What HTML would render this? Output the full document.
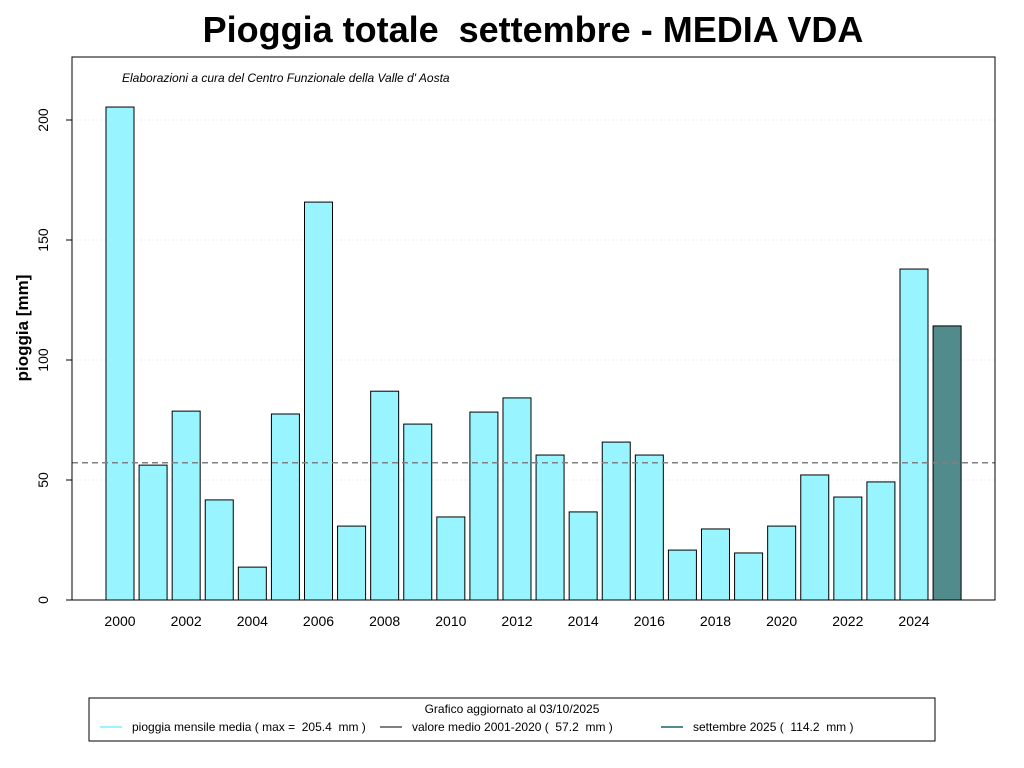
<!DOCTYPE html>
<html><head><meta charset="utf-8"><style>body{margin:0;background:#fff}svg{display:block}text{white-space:pre}</style></head>
<body>
<svg width="1024" height="768" xmlns="http://www.w3.org/2000/svg" font-family="Liberation Sans, sans-serif" xml:space="preserve">
<rect width="1024" height="768" fill="#fff"/>
<text x="533" y="42" text-anchor="middle" font-size="36" font-weight="bold">Pioggia totale  settembre - MEDIA VDA</text>
<g stroke="#eeeeee" stroke-dasharray="2,2">
<line x1="72" x2="995" y1="480" y2="480"/><line x1="72" x2="995" y1="360" y2="360"/>
<line x1="72" x2="995" y1="240" y2="240"/><line x1="72" x2="995" y1="120" y2="120"/>
</g>
<text x="122" y="82" font-size="12" font-style="italic">Elaborazioni a cura del Centro Funzionale della Valle d' Aosta</text>
<g id="bars" stroke="#000" stroke-width="1" fill="#98F5FF"></g>
<line x1="72" x2="995" y1="462.7" y2="462.7" stroke="#808080" stroke-width="1.5" stroke-dasharray="6,4"/>
<rect x="72" y="57" width="923" height="543" fill="none" stroke="#000"/>
<g id="yt" font-size="14"></g>
<g id="xt" font-size="14" text-anchor="middle"></g>
<text x="28" y="328" font-size="17" font-weight="bold" text-anchor="middle" transform="rotate(-90 28 328)">pioggia [mm]</text>
<rect x="89" y="698" width="846" height="43" fill="#fff" stroke="#000"/>
<text x="512" y="713" font-size="12" text-anchor="middle">Grafico aggiornato al 03/10/2025</text>
<line x1="100" x2="122" y1="727" y2="727" stroke="#98F5FF" stroke-width="2"/>
<text x="132" y="731" font-size="12">pioggia mensile media ( max =  205.4  mm )</text>
<line x1="380" x2="402" y1="727" y2="727" stroke="#808080" stroke-width="2"/>
<text x="412" y="731" font-size="12">valore medio 2001-2020 (  57.2  mm )</text>
<line x1="661" x2="683" y1="727" y2="727" stroke="#528B8B" stroke-width="2"/>
<text x="693" y="731" font-size="12">settembre 2025 (  114.2  mm )</text>
</svg>
<script>
var v=[205.4,56.2,78.7,41.7,13.7,77.5,165.8,30.8,87,73.3,34.6,78.3,84.2,60.4,36.7,65.8,60.4,20.8,29.6,19.6,30.8,52.1,42.9,49.2,137.9,114.2];
var ns="http://www.w3.org/2000/svg",b=document.getElementById('bars'),s=33.083;
v.forEach(function(d,i){var r=document.createElementNS(ns,'rect');var cx=120+s*i;
r.setAttribute('x',cx-14);r.setAttribute('width',28);r.setAttribute('y',600-d*2.4);r.setAttribute('height',d*2.4);
if(i==25)r.setAttribute('fill','#528B8B');b.appendChild(r);});
var yt=document.getElementById('yt');
[0,50,100,150,200].forEach(function(t){var y=600-t*2.4;
yt.insertAdjacentHTML('beforeend','<line x1="66" x2="72" y1="'+y+'" y2="'+y+'" stroke="#000"/><text x="48" y="'+y+'" text-anchor="middle" transform="rotate(-90 48 '+y+')">'+t+'</text>');});
var xt=document.getElementById('xt');
for(var i=0;i<13;i++){var x=120+2*s*i;xt.insertAdjacentHTML('beforeend','<text x="'+x+'" y="626">'+(2000+2*i)+'</text>');}
</script>
</body></html>
